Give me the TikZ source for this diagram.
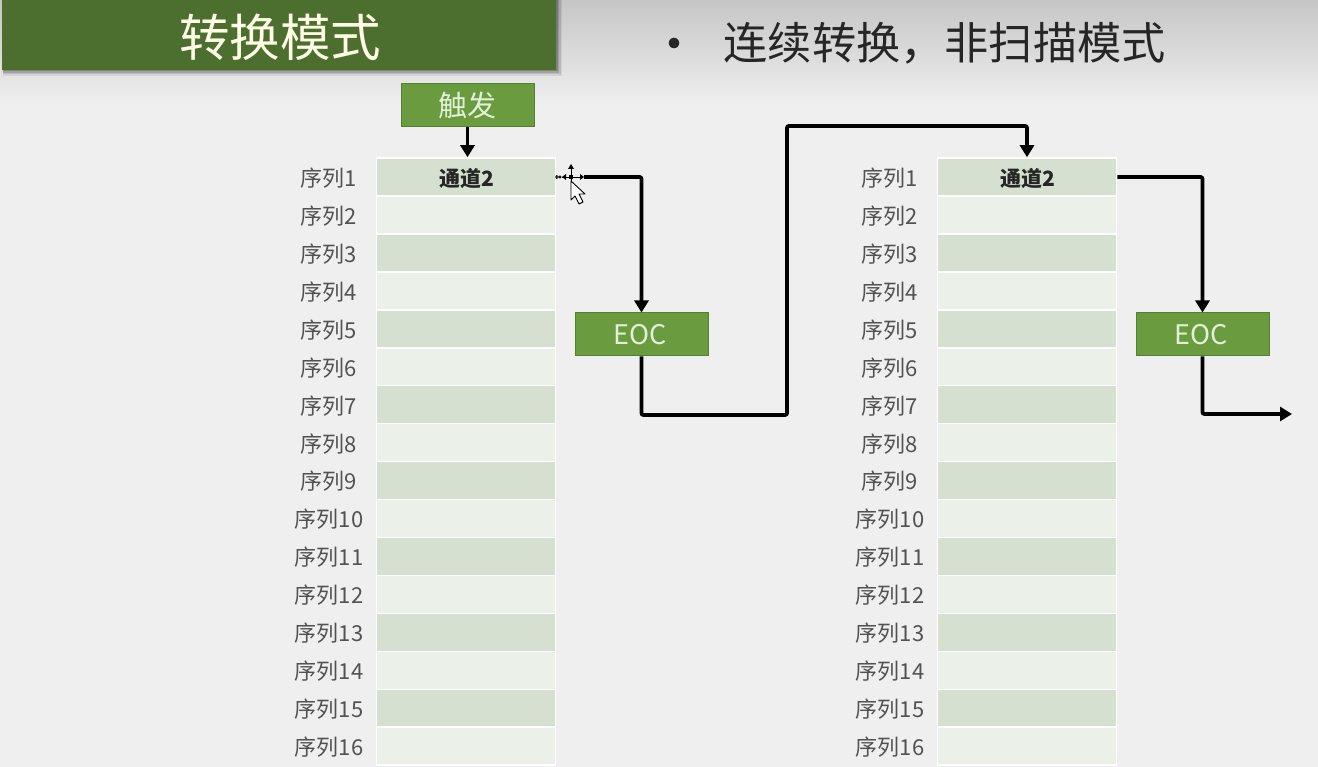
\documentclass[tikz,border=0pt]{standalone}
\usepackage{fontspec}
\setmainfont{Noto Sans CJK SC}
\usetikzlibrary{arrows.meta,calc}
\definecolor{bgc}{HTML}{EFEFEF}
\definecolor{topc}{HTML}{C6C6C6}
\definecolor{titlec}{HTML}{4C6E2F}
\definecolor{boxc}{HTML}{6A9C3F}
\definecolor{boxb}{HTML}{557F34}
\definecolor{boxt}{HTML}{E2F0D9}
\definecolor{rowd}{HTML}{D5E0D0}
\definecolor{rowl}{HTML}{EBF0E9}
\tikzset{
  x=1pt,y=-1pt,
  greenbox/.style={draw=boxb,line width=1pt,fill=boxc,text=boxt,minimum width=133pt,minimum height=43pt,inner sep=0pt,font=\fontsize{27}{30}\selectfont},
  rowbox/.style={draw=white,line width=1.6pt,minimum width=179pt,minimum height=38pt,inner sep=0pt},
  rowdark/.style={rowbox,fill=rowd},
  rowlight/.style={rowbox,fill=rowl},
  seqlabel/.style={inner sep=0pt,text=black!68,font=\fontsize{22}{24}\selectfont},
  conn/.style={draw=black,line width=3.8pt,rounded corners=2pt,-{Triangle[length=12pt,width=14pt]}}
}
\begin{document}
\begin{tikzpicture}
\useasboundingbox (0,0) rectangle (1318,767);
\fill[bgc] (0,0) rectangle (1318,767);
\shade[top color=topc,bottom color=bgc] (0,0) rectangle (1318,105);
% title bar with soft shadow
\foreach \s/\o in {6/.07,4.5/.1,3/.14,1.5/.18}{
  \fill[black,opacity=\o] (3,0) rectangle (556+\s,70+\s);
}
\fill[titlec] (2,0) rectangle (556,70);
\node[inner sep=0pt,text=white!90!yellow,font=\fontsize{50.5}{54}\selectfont] (titletext) at (280,37) {转换模式};
\node[inner sep=0pt,text=black!85,font=\fontsize{50}{54}\selectfont] (bullet) at (674,50) {•};
\node[inner sep=0pt,anchor=west,text=black!85,font=\fontsize{44.2}{48}\selectfont] (sub) at (723.5,43) {连续转换，非扫描模式};
% sequence columns
\foreach \col/\cx/\lx in {a/466/329,b/1027/890}{
  \foreach \n in {1,...,16}{
    \pgfmathsetmacro{\yy}{177+37.95*(\n-1)}
    \pgfmathtruncatemacro{\od}{mod(\n,2)}
    \ifnum\od=1 \def\st{rowdark}\else\def\st{rowlight}\fi
    \node[\st] (\col\n) at (\cx,\yy) {};
    \node[seqlabel] (\col l\n) at (\lx,\yy+1) {序列\n};
  }
  \node[inner sep=0pt,text=black!85,font=\fontsize{21}{24}\selectfont\bfseries] (\col t) at (\cx+1,179) {通道2};
}
\node[greenbox,font=\fontsize{29}{32}\selectfont] (trig) at (467.5,105.5) {\raisebox{-1pt}{触发}};
\node[greenbox] (e1) at (641.5,334.5) {\raisebox{-1pt}{\hspace*{-2pt}EOC}};
\node[greenbox] (e2) at (1202.5,334.5) {\raisebox{-1pt}{\hspace*{-2pt}EOC}};
\coordinate (k1) at (787,415);
\coordinate (k2) at (787,126);
\coordinate (k3) at (1292,414);
\draw[conn] (trig.south) -- (trig.south |- a1.north);
\draw[conn] (a1.east) -| (e1.north);
\draw[conn] (e1.south) |- (k1) -- (k2) -| (b1.north);
\draw[conn] (b1.east) -| (e2.north);
\draw[conn] (e2.south) |- (k3);
% cursor overlay
\fill[bgc] (557,174) rectangle (584,181);
\begin{scope}[shift={(571,177)}]
  \draw[black,line width=.9pt] (-9,0) -- (9,0) (0,-9) -- (0,8);
  \fill[black] (-2,-2) rectangle (2,2);
  \fill[black] (0,-13) -- (-3,-8) -- (3,-8) -- cycle;
  \fill[black] (-9,0) -- (-5,-3) -- (-5,3) -- cycle;
  \fill[black] (13,0) -- (9,-3) -- (9,3) -- cycle;
  \draw[black,line width=.7pt] (-14,0) circle (1.4) (-11,0) circle (1.2);
  \draw[black,line width=.9pt,fill=white,line join=round] (0,4) -- (0,23) -- (4,19) -- (8,27) -- (12,25) -- (8,17) -- (14,17) -- cycle;
\end{scope}
\end{tikzpicture}
\end{document}
